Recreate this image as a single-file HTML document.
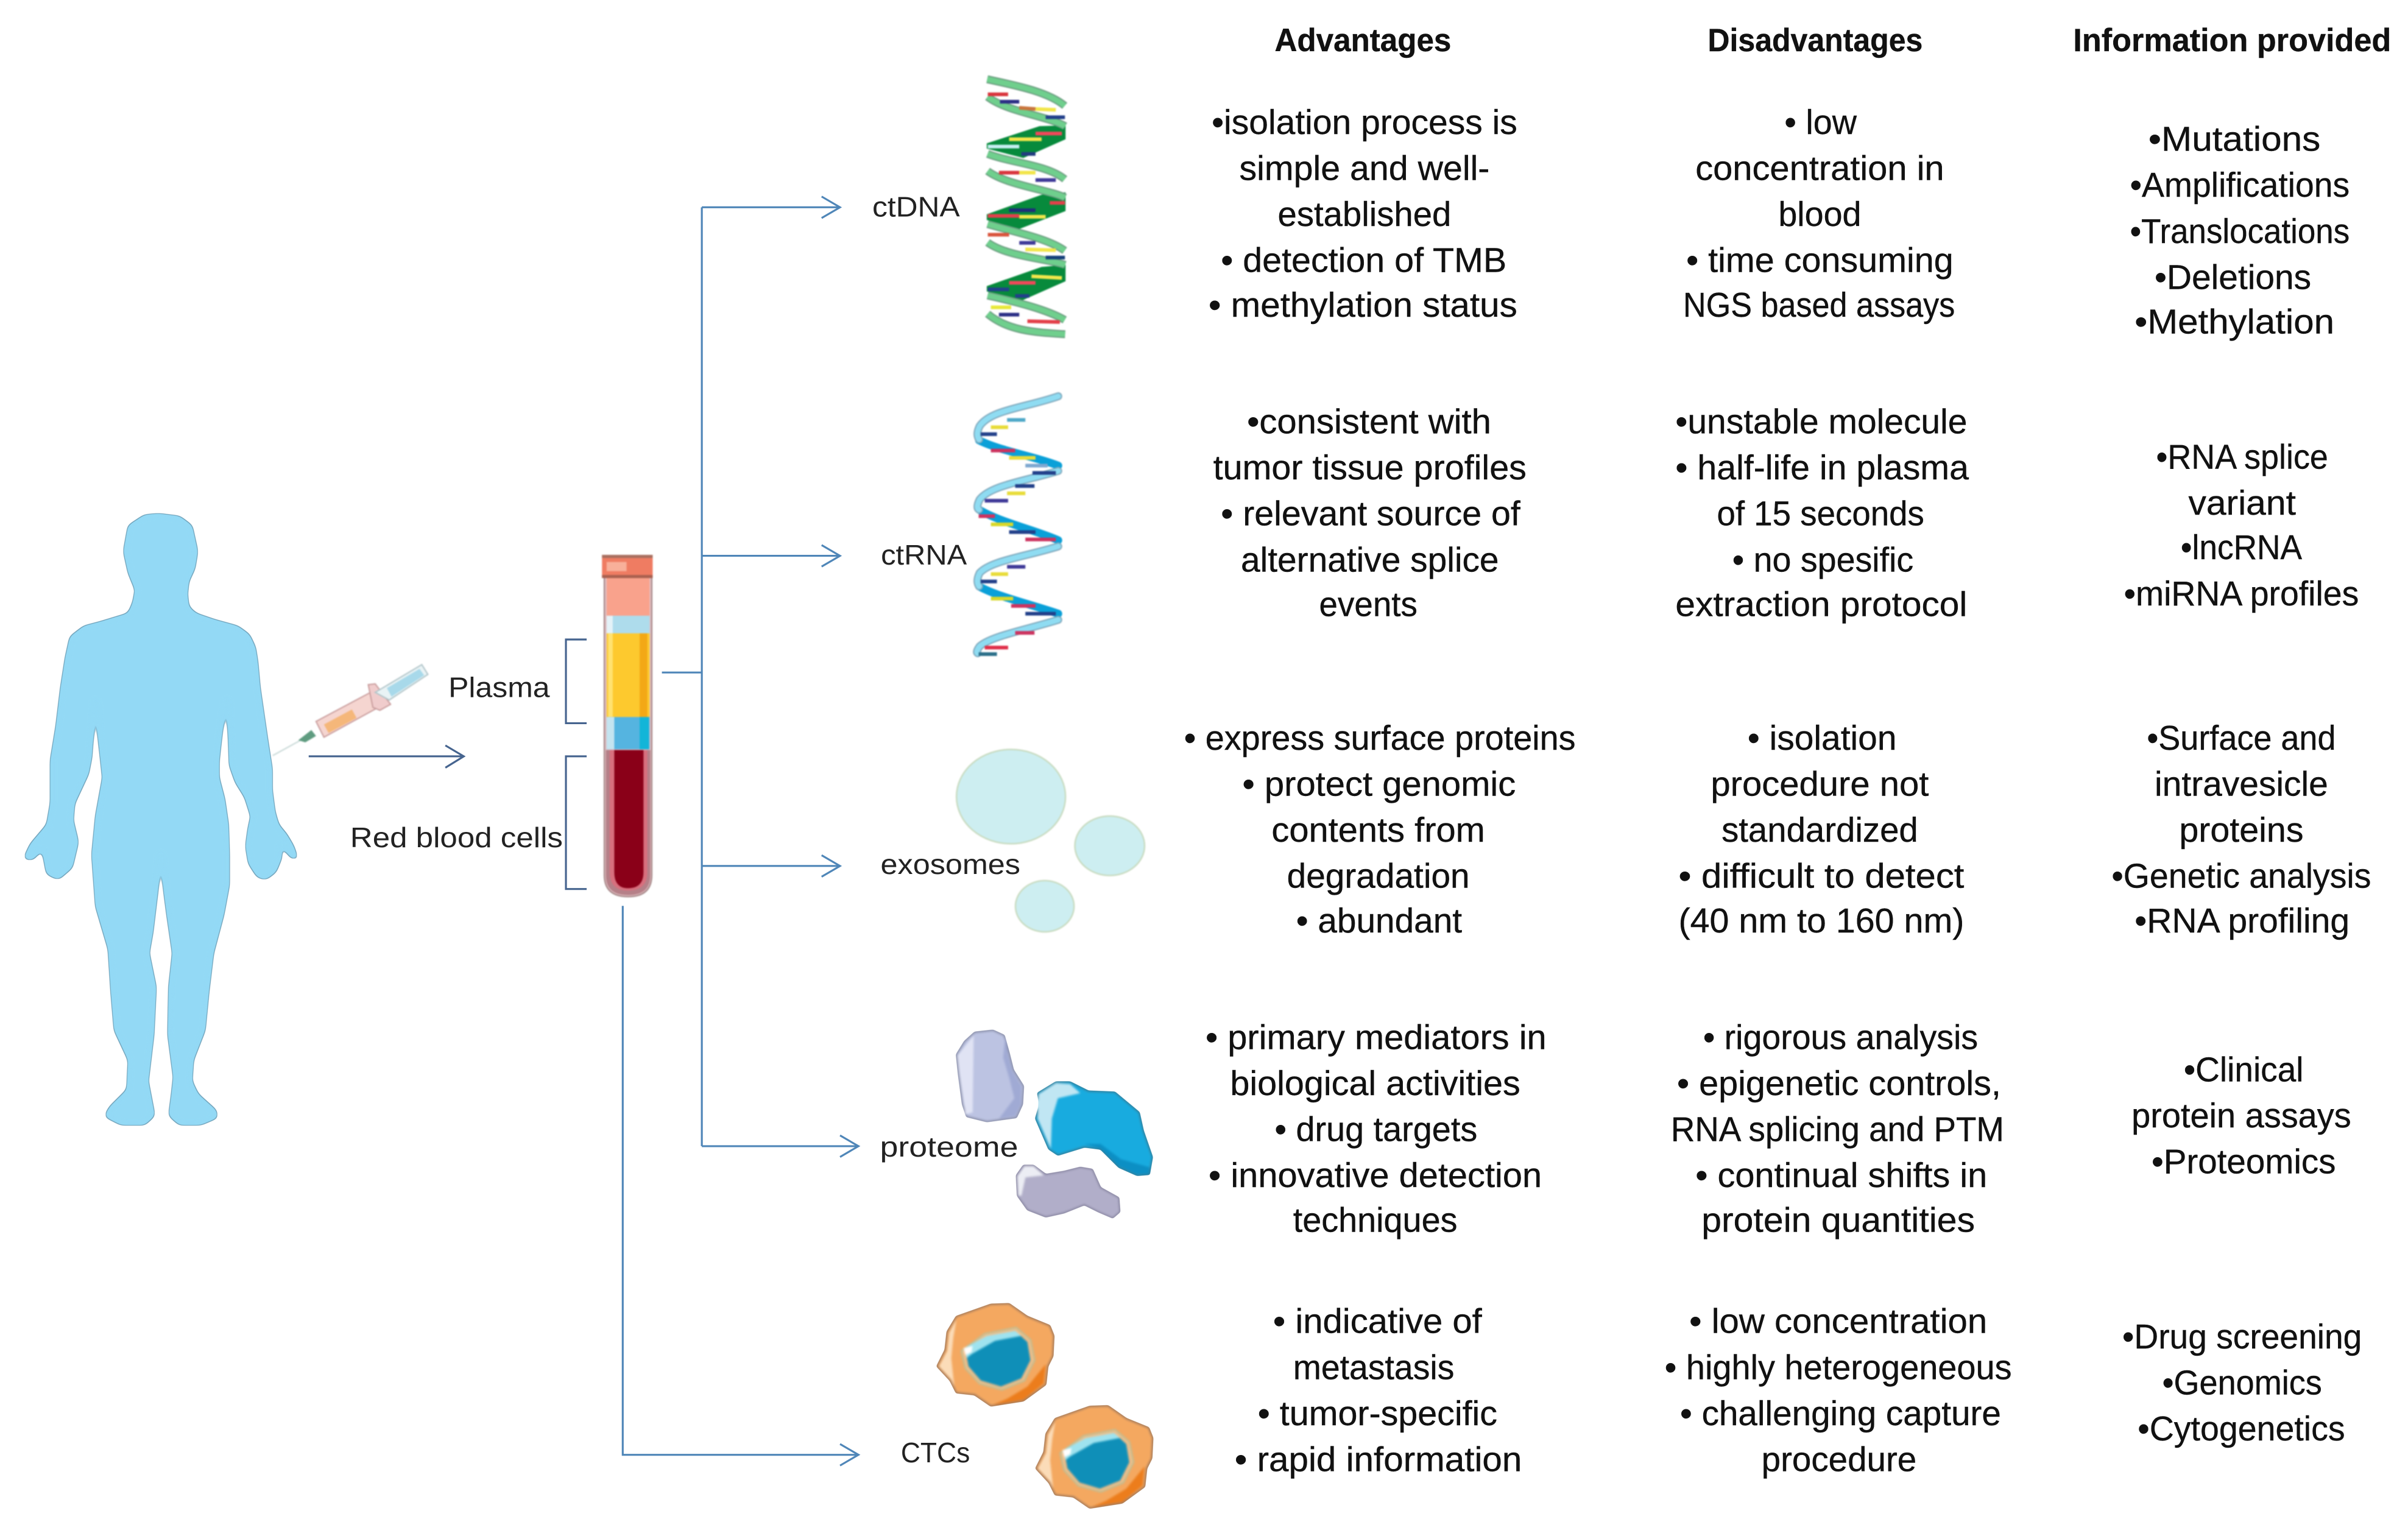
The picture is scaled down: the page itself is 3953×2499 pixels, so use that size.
<!DOCTYPE html>
<html><head><meta charset="utf-8"><style>
html,body{margin:0;padding:0;background:#fff}
svg{display:block}
text{font-family:"Liberation Sans",sans-serif;font-size:22.5px;fill:#111;stroke:#111;stroke-width:.16}
.h{font-weight:bold;font-size:21px}
.l{font-size:18.5px;fill:#222;stroke:none}
.c{fill:none;stroke:#4f86b8;stroke-width:1.25}
.b{fill:none;stroke:#46648f;stroke-width:1.25}
.n{vector-effect:non-scaling-stroke}
</style></head><body>
<svg xmlns="http://www.w3.org/2000/svg" width="3953" height="2499" viewBox="0 0 1568 991.27">
<defs>
<filter id="soft" x="-10%" y="-10%" width="120%" height="120%" color-interpolation-filters="sRGB">
<feGaussianBlur stdDeviation="0.75"/>
<feComponentTransfer><feFuncA type="linear" slope="5" intercept="-2"/></feComponentTransfer>
</filter>
<filter id="blur" x="-10%" y="-10%" width="120%" height="120%" color-interpolation-filters="sRGB">
<feGaussianBlur stdDeviation="0.4"/>
</filter>
<filter id="body" x="-10%" y="-10%" width="120%" height="120%" color-interpolation-filters="sRGB">
<feGaussianBlur in="SourceGraphic" stdDeviation="1.9"/>
<feComponentTransfer result="c"><feFuncA type="linear" slope="12" intercept="-5.4"/></feComponentTransfer>
<feMorphology in="c" operator="dilate" radius="0.45" result="d"/>
<feFlood flood-color="#6b9db5"/>
<feComposite in2="d" operator="in" result="o"/>
<feMerge><feMergeNode in="o"/><feMergeNode in="c"/></feMerge>
</filter>
</defs>
<rect width="1568" height="991.27" fill="#fff"/>

<!-- body -->
<g filter="url(#body)">
<g transform="translate(0,317.3) scale(0.3035,0.2784)">
<polygon fill="#93d9f5" points="340,62 385,68 412,90 424,150 418,190 405,220 402,250 405,280 420,295 460,310 510,325 535,345 548,375 553,410 558,470 566,530 574,590 584,660 584,710 590,760 598,790 615,812 630,840 640,872 625,868 612,850 602,838 605,865 592,900 570,918 552,912 533,880 527,840 532,800 538,770 525,725 505,690 492,650 487,495 478,560 470,640 470,680 482,730 490,790 492,860 492,930 480,1000 458,1090 448,1180 440,1270 415,1340 412,1390 425,1420 464,1458 467,1475 430,1492 385,1492 362,1470 368,1420 372,1380 360,1280 362,1170 370,1090 358,1000 352,950 345,855 338,950 328,1040 320,1090 335,1170 330,1280 318,1390 332,1470 310,1492 260,1492 224,1472 235,1450 272,1410 275,1340 245,1270 238,1180 232,1080 205,980 197,860 205,770 220,680 212,600 205,495 197,630 190,670 160,740 157,780 168,830 155,890 125,918 100,905 90,848 70,872 50,870 65,835 100,790 108,740 108,640 120,560 130,470 140,400 150,350 180,325 215,315 275,295 285,270 290,240 275,200 265,150 275,90 310,65"/>
</g></g>

<!-- syringe -->
<g filter="url(#blur)">
<g transform="translate(0,317.3) scale(0.3035,0.2784)">
<line class="n" x1="585" y1="628" x2="645" y2="592" stroke="#c7d8d6" stroke-width="2"/>
<polygon points="640,592 668,568 678,582 655,597" fill="#5f9c80"/>
<polygon class="n" points="678,548 795,480 812,515 695,585" fill="#f5d5d0" stroke="#c99d9d" stroke-width="2"/>
<polygon points="695,555 755,520 765,540 705,575" fill="#f5b77a"/>
<polygon class="n" points="790,462 805,460 838,508 815,522 800,515" fill="#f0cccc" stroke="#c99d9d" stroke-width="2"/>
<polygon class="n" points="805,480 905,415 918,438 835,498" fill="#e9f3f5" stroke="#b0c4c8" stroke-width="2"/>
<polygon points="830,470 900,425 910,440 840,490" fill="#a8d9ea"/>
</g></g>

<!-- tube -->
<g filter="url(#blur)">
<path d="M393.5,376 H424.4 V570 Q424.4,584 409,584 Q393.5,584 393.5,570 Z" fill="#e2c0c4" stroke="#a08080" stroke-width=".8"/>
<rect x="395" y="376" width="28" height="25" fill="#f9a28c"/>
<rect x="395" y="401" width="28" height="11.5" fill="#aedcec"/>
<rect x="395" y="401" width="4" height="11.5" fill="#e4f2f8"/>
<rect x="395" y="412.5" width="28" height="54.5" fill="#fdc92e"/>
<rect x="396" y="412.5" width="3" height="54.5" fill="#ffe270"/>
<rect x="416.5" y="412.5" width="5" height="54.5" fill="#f3a815"/>
<rect x="395" y="467" width="28" height="21" fill="#55b4e0"/>
<rect x="395" y="467" width="5" height="21" fill="#c4e4f0"/>
<rect x="416.5" y="467" width="6" height="21" fill="#12b5d8"/>
<path d="M394.5,488.5 H423.5 V570 Q423.5,583 409,583 Q394.5,583 394.5,570 Z" fill="#b58088"/>
<path d="M397,488.5 H421.5 V568 Q421.5,580 409,580 Q397,580 397,568 Z" fill="#d8707e"/>
<path d="M400,488.5 H419 V568 Q419,578.5 409,578.5 Q400,578.5 400,568 Z" fill="#8a0018"/>
<rect x="392" y="361.4" width="33" height="15" fill="#ef7c62"/>
<rect x="392" y="361.4" width="33" height="2" fill="#a87060"/>
<rect x="392" y="374.5" width="33" height="2" fill="#a86050"/>
<rect x="395" y="366" width="13" height="6" fill="#f8b09a"/>
</g>

<!-- connectors -->
<path class="c" d="M431,438 H457 M457,135 V746.5 M457,135 H547 M457,362 H547 M457,564 H547 M457,746.5 H559"/>
<path class="c" d="M405.5,590 V947.5 H559"/>
<path class="c" d="M535,128 L547,135 L535,142 M535,355 L547,362 L535,369 M535,557 L547,564 L535,571 M547,739.5 L559,746.5 L547,753.5 M547,940.5 L559,947.5 L547,954.5"/>
<path class="b" d="M201,492.6 H302 M290,485.5 L302,492.6 L290,500"/>
<path class="b" d="M382,416.5 H368.5 V471 H382 M382,492.6 H368.5 V579 H382"/>

<!-- ctDNA helix -->
<g filter="url(#blur)">
<g transform="translate(555.3,31.7) scale(0.1322,0.2657)">
<polygon points="1048,188 920,190 660,232 660,245 840,268 1048,222" fill="#078a3c"/>
<polygon points="1048,352 930,358 660,406 660,420 820,442 1048,398" fill="#078a3c"/>
<polygon points="1048,530 930,535 660,582 660,595 830,618 1048,570" fill="#078a3c"/>
<g fill="none" stroke="#6d9f82" stroke-width="13">
<path class="n" d="M662,75 C800,90 960,105 1044,140"/>
<path class="n" d="M664,118 C760,155 960,165 1046,190"/>
<path class="n" d="M664,258 C780,280 960,285 1044,320"/>
<path class="n" d="M664,300 C760,335 960,345 1046,365"/>
<path class="n" d="M664,430 C800,450 960,465 1044,495"/>
<path class="n" d="M664,475 C760,510 960,515 1046,530"/>
<path class="n" d="M664,605 C800,620 960,640 1044,665"/>
<path class="n" d="M664,650 C760,690 880,695 1046,700"/>
</g>
<g fill="none" stroke="#6fcf8d" stroke-width="9">
<path class="n" d="M662,75 C800,90 960,105 1044,140"/>
<path class="n" d="M664,118 C760,155 960,165 1046,190"/>
<path class="n" d="M664,258 C780,280 960,285 1044,320"/>
<path class="n" d="M664,300 C760,335 960,345 1046,365"/>
<path class="n" d="M664,430 C800,450 960,465 1044,495"/>
<path class="n" d="M664,475 C760,510 960,515 1046,530"/>
<path class="n" d="M664,605 C800,620 960,640 1044,665"/>
<path class="n" d="M664,650 C760,690 880,695 1046,700"/>
</g>
<g stroke-width="6">
<line x1="665" y1="112" x2="765" y2="112" stroke="#d9363e" class="n"/>
<line x1="725" y1="130" x2="820" y2="130" stroke="#2c2f86" class="n"/>
<line x1="820" y1="145" x2="900" y2="148" stroke="#c9763e" class="n"/>
<line x1="900" y1="148" x2="1000" y2="150" stroke="#f2e64b" class="n"/>
<line x1="950" y1="168" x2="1045" y2="168" stroke="#22408a" class="n"/>
<line x1="770" y1="222" x2="930" y2="222" stroke="#f2e64b" class="n"/>
<line x1="900" y1="208" x2="1030" y2="208" stroke="#f0485a" class="n"/>
<line x1="665" y1="240" x2="820" y2="240" stroke="#c7eef2" class="n"/>
<line x1="830" y1="258" x2="900" y2="258" stroke="#223d80" class="n"/>
<line x1="720" y1="304" x2="820" y2="304" stroke="#d9363e" class="n"/>
<line x1="820" y1="304" x2="900" y2="304" stroke="#f2e64b" class="n"/>
<line x1="900" y1="322" x2="1000" y2="322" stroke="#3f3a98" class="n"/>
<line x1="665" y1="410" x2="820" y2="410" stroke="#e3404a" class="n"/>
<line x1="820" y1="412" x2="950" y2="412" stroke="#f2e64b" class="n"/>
<line x1="970" y1="378" x2="1045" y2="378" stroke="#e3404a" class="n"/>
<line x1="770" y1="396" x2="900" y2="396" stroke="#1e2f78" class="n"/>
<line x1="665" y1="456" x2="770" y2="456" stroke="#d9563e" class="n"/>
<line x1="820" y1="476" x2="900" y2="476" stroke="#3f3a98" class="n"/>
<line x1="850" y1="492" x2="1000" y2="494" stroke="#f2e64b" class="n"/>
<line x1="950" y1="512" x2="1045" y2="512" stroke="#15407a" class="n"/>
<line x1="770" y1="574" x2="900" y2="574" stroke="#f0485a" class="n"/>
<line x1="880" y1="558" x2="1030" y2="562" stroke="#f2e64b" class="n"/>
<line x1="665" y1="590" x2="770" y2="590" stroke="#22408a" class="n"/>
<line x1="800" y1="606" x2="870" y2="606" stroke="#22408a" class="n"/>
<line x1="680" y1="634" x2="780" y2="634" stroke="#e8e83a" class="n"/>
<line x1="720" y1="652" x2="820" y2="652" stroke="#2c2f86" class="n"/>
<line x1="860" y1="668" x2="1020" y2="670" stroke="#e3404a" class="n"/>
</g>
</g></g>

<!-- ctRNA helix -->
<g filter="url(#blur)">
<g transform="translate(555.3,31.7) scale(0.1322,0.2657)">
<g fill="none" stroke="#0aa0d8" stroke-width="13" stroke-linecap="round">
<path class="n" d="M622,960 C720,985 900,1000 1012,1022"/>
<path class="n" d="M622,1130 C720,1160 900,1180 1012,1205"/>
<path class="n" d="M622,1318 C720,1345 900,1365 1012,1385"/>
</g>
<g fill="none" stroke="#7fa8bc" stroke-width="13" stroke-linecap="round">
<path class="n" d="M1012,852 C850,880 680,885 625,925 Q605,945 622,958"/>
<path class="n" d="M1012,1035 C850,1060 680,1070 625,1105 Q605,1125 622,1130"/>
<path class="n" d="M1012,1220 C850,1245 680,1255 625,1285 Q605,1305 622,1318"/>
<path class="n" d="M1012,1400 C850,1425 680,1440 625,1465 Q605,1478 615,1482"/>
</g>
<g fill="none" stroke="#8fdcf2" stroke-width="9" stroke-linecap="round">
<path class="n" d="M1012,852 C850,880 680,885 625,925 Q605,945 622,958"/>
<path class="n" d="M1012,1035 C850,1060 680,1070 625,1105 Q605,1125 622,1130"/>
<path class="n" d="M1012,1220 C850,1245 680,1255 625,1285 Q605,1305 622,1318"/>
<path class="n" d="M1012,1400 C850,1425 680,1440 625,1465 Q605,1478 615,1482"/>
</g>
<g stroke-width="6">
<line class="n" x1="760" y1="910" x2="850" y2="910" stroke="#4fa8c8"/>
<line class="n" x1="680" y1="928" x2="765" y2="928" stroke="#e8dc3a"/>
<line class="n" x1="630" y1="945" x2="710" y2="945" stroke="#22408a"/>
<line class="n" x1="680" y1="985" x2="800" y2="985" stroke="#cc3460"/>
<line class="n" x1="770" y1="1003" x2="900" y2="1003" stroke="#e8dc3a"/>
<line class="n" x1="850" y1="1022" x2="960" y2="1022" stroke="#7fa8d0"/>
<line class="n" x1="885" y1="1040" x2="1000" y2="1040" stroke="#22408a"/>
<line class="n" x1="800" y1="1072" x2="895" y2="1072" stroke="#22408a"/>
<line class="n" x1="760" y1="1090" x2="850" y2="1090" stroke="#e8dc3a"/>
<line class="n" x1="650" y1="1108" x2="765" y2="1108" stroke="#3f3a98"/>
<line class="n" x1="620" y1="1146" x2="700" y2="1146" stroke="#cc3460"/>
<line class="n" x1="680" y1="1166" x2="790" y2="1166" stroke="#d8d82a"/>
<line class="n" x1="770" y1="1185" x2="900" y2="1185" stroke="#22408a"/>
<line class="n" x1="850" y1="1203" x2="1000" y2="1203" stroke="#cc3460"/>
<line class="n" x1="760" y1="1270" x2="850" y2="1270" stroke="#3f3a98"/>
<line class="n" x1="680" y1="1288" x2="765" y2="1288" stroke="#e8dc3a"/>
<line class="n" x1="630" y1="1306" x2="710" y2="1306" stroke="#22408a"/>
<line class="n" x1="680" y1="1348" x2="790" y2="1348" stroke="#d8d82a"/>
<line class="n" x1="780" y1="1366" x2="900" y2="1366" stroke="#cc3460"/>
<line class="n" x1="850" y1="1385" x2="1000" y2="1385" stroke="#22408a"/>
<line class="n" x1="800" y1="1432" x2="895" y2="1432" stroke="#cc3460"/>
<line class="n" x1="650" y1="1468" x2="765" y2="1468" stroke="#e0304a"/>
<line class="n" x1="620" y1="1484" x2="710" y2="1484" stroke="#2b6f8a"/>
</g>
</g></g>

<!-- exosomes -->
<g filter="url(#blur)">
<g transform="translate(555.3,468.1) scale(0.1392,0.3337)" fill="#cdeef1" stroke="#c9dcc2" stroke-width="2.5">
<ellipse class="n" cx="740" cy="152" rx="255" ry="92"/>
<ellipse class="n" cx="1202" cy="248" rx="163" ry="58"/>
<ellipse class="n" cx="898" cy="366" rx="137" ry="50"/>
</g></g>

<!-- proteins -->
<g filter="url(#soft)">
<g transform="translate(610.9,662.4) scale(0.1322)">
<polygon points="90,185 130,120 180,75 270,65 325,90 350,180 370,260 420,340 415,430 385,495 240,515 140,490 120,430 100,280" fill="#bcc3e2" stroke="#8a8fa8" stroke-width="7"/>
<polygon points="95,190 175,90 170,470 135,480 105,280" fill="#e0e3f4"/>
<polygon points="330,100 345,185 365,265 410,340 408,430 380,488 300,500 375,400 350,300 320,200" fill="#a0aad4"/>
<polygon points="490,375 580,320 650,320 740,365 870,370 990,470 1010,560 1055,690 1040,775 980,780 890,740 800,650 720,640 590,680 545,650 480,500 500,430" fill="#18abdf" stroke="#35809c" stroke-width="7"/>
<polygon points="495,380 580,325 650,330 700,375 590,400 560,500 555,650 490,500" fill="#c0e6f3"/>
<polygon points="720,625 800,625 900,700 1040,740 1040,772 980,775 890,735 800,648" fill="#0c8fc4"/>
<polygon points="385,780 420,730 470,730 530,775 620,760 700,740 760,750 800,840 890,890 895,960 860,990 790,960 720,925 620,965 530,985 440,950 390,880" fill="#b1aec9" stroke="#85839d" stroke-width="6"/>
<polygon points="390,785 425,735 470,735 520,780 430,790 410,880 395,880" fill="#ecedf4"/>
</g></g>

<!-- cells -->
<g filter="url(#soft)">
<g transform="translate(602.9,844.9) scale(0.1322)">
<g id="cell">
<polygon points="55,340 95,260 105,170 150,95 320,35 410,32 500,95 610,140 630,190 625,290 600,340 590,430 480,510 320,535 240,480 150,470 120,410" fill="#f4a860" stroke="#a87e5e" stroke-width="8"/>
<polygon points="65,340 105,265 115,175 150,110 135,200 125,300 140,440 125,405" fill="#fbdcb8"/>
<polygon points="590,330 580,425 480,505 330,530 400,500 500,440" fill="#ec7d1c"/>
<polygon points="175,265 290,180 445,150 515,210 535,310 485,410 375,455 265,425 195,350" fill="#f8bd84" stroke="#b9c09a" stroke-width="8"/>
<polygon points="195,260 300,195 440,165 500,220 515,310 470,400 370,440 270,410 210,340" fill="#0f8fb8"/>
<polygon points="190,250 300,190 440,165 470,190 340,215 225,280 200,300" fill="#9fe3ef"/>
<polygon points="185,250 230,240 225,270 195,285" fill="#fff"/>
</g>
<use href="#cell" transform="translate(487,503)"/>
</g></g>

<!-- left labels -->
<text class="l" x="292" y="454" textLength="66" lengthAdjust="spacingAndGlyphs">Plasma</text>
<text class="l" x="228" y="551.8" textLength="138.5" lengthAdjust="spacingAndGlyphs">Red blood cells</text>
<text class="l" x="568" y="141" textLength="57" lengthAdjust="spacingAndGlyphs">ctDNA</text>
<text class="l" x="573.6" y="367.7" textLength="56" lengthAdjust="spacingAndGlyphs">ctRNA</text>
<text class="l" x="573.4" y="569.3" textLength="91" lengthAdjust="spacingAndGlyphs">exosomes</text>
<text class="l" x="573" y="753.3" textLength="90" lengthAdjust="spacingAndGlyphs">proteome</text>
<text class="l" x="586.6" y="952.4" textLength="45" lengthAdjust="spacingAndGlyphs">CTCs</text>

<!-- headers -->
<text class="h" x="830" y="33.4" textLength="115" lengthAdjust="spacingAndGlyphs">Advantages</text>
<text class="h" x="1112" y="33.4" textLength="140" lengthAdjust="spacingAndGlyphs">Disadvantages</text>
<text class="h" x="1350" y="33.4" textLength="207" lengthAdjust="spacingAndGlyphs">Information provided</text>

<g transform="translate(0,-0.5)">
<!-- advantages -->
<text x="789" y="87.7" textLength="199" lengthAdjust="spacingAndGlyphs">•isolation process is</text>
<text x="807" y="117.7" textLength="163" lengthAdjust="spacingAndGlyphs">simple and well-</text>
<text x="832" y="147.7" textLength="113" lengthAdjust="spacingAndGlyphs">established</text>
<text x="795" y="177.7" textLength="186" lengthAdjust="spacingAndGlyphs">• detection of TMB</text>
<text x="787" y="206.7" textLength="201" lengthAdjust="spacingAndGlyphs">• methylation status</text>

<text x="812" y="282.7" textLength="159" lengthAdjust="spacingAndGlyphs">•consistent with</text>
<text x="790" y="312.7" textLength="204" lengthAdjust="spacingAndGlyphs">tumor tissue profiles</text>
<text x="795" y="342.7" textLength="195" lengthAdjust="spacingAndGlyphs">• relevant source of</text>
<text x="808" y="372.7" textLength="168" lengthAdjust="spacingAndGlyphs">alternative splice</text>
<text x="859" y="401.7" textLength="64" lengthAdjust="spacingAndGlyphs">events</text>

<text x="771" y="488.7" textLength="255" lengthAdjust="spacingAndGlyphs">• express surface proteins</text>
<text x="809" y="518.7" textLength="178" lengthAdjust="spacingAndGlyphs">• protect genomic</text>
<text x="828" y="548.7" textLength="139" lengthAdjust="spacingAndGlyphs">contents from</text>
<text x="838" y="578.7" textLength="119" lengthAdjust="spacingAndGlyphs">degradation</text>
<text x="844" y="607.7" textLength="108" lengthAdjust="spacingAndGlyphs">• abundant</text>

<text x="785" y="683.7" textLength="222" lengthAdjust="spacingAndGlyphs">• primary mediators in</text>
<text x="801" y="713.7" textLength="189" lengthAdjust="spacingAndGlyphs">biological activities</text>
<text x="830" y="743.7" textLength="132" lengthAdjust="spacingAndGlyphs">• drug targets</text>
<text x="787" y="773.7" textLength="217" lengthAdjust="spacingAndGlyphs">• innovative detection</text>
<text x="842" y="802.7" textLength="107" lengthAdjust="spacingAndGlyphs">techniques</text>

<text x="829" y="868.7" textLength="136" lengthAdjust="spacingAndGlyphs">• indicative of</text>
<text x="842" y="898.7" textLength="105" lengthAdjust="spacingAndGlyphs">metastasis</text>
<text x="819" y="928.7" textLength="156" lengthAdjust="spacingAndGlyphs">• tumor-specific</text>
<text x="804" y="958.7" textLength="187" lengthAdjust="spacingAndGlyphs">• rapid information</text>

<!-- disadvantages -->
<text x="1162" y="87.7" textLength="47" lengthAdjust="spacingAndGlyphs">• low</text>
<text x="1104" y="117.7" textLength="162" lengthAdjust="spacingAndGlyphs">concentration in</text>
<text x="1158" y="147.7" textLength="54" lengthAdjust="spacingAndGlyphs">blood</text>
<text x="1098" y="177.7" textLength="174" lengthAdjust="spacingAndGlyphs">• time consuming</text>
<text x="1096" y="206.7" textLength="177" lengthAdjust="spacingAndGlyphs">NGS based assays</text>

<text x="1091" y="282.7" textLength="190" lengthAdjust="spacingAndGlyphs">•unstable molecule</text>
<text x="1091" y="312.7" textLength="191" lengthAdjust="spacingAndGlyphs">• half-life in plasma</text>
<text x="1118" y="342.7" textLength="135" lengthAdjust="spacingAndGlyphs">of 15 seconds</text>
<text x="1128" y="372.7" textLength="118" lengthAdjust="spacingAndGlyphs">• no spesific</text>
<text x="1091" y="401.7" textLength="190" lengthAdjust="spacingAndGlyphs">extraction protocol</text>

<text x="1138" y="488.7" textLength="97" lengthAdjust="spacingAndGlyphs">• isolation</text>
<text x="1114" y="518.7" textLength="142" lengthAdjust="spacingAndGlyphs">procedure not</text>
<text x="1121" y="548.7" textLength="128" lengthAdjust="spacingAndGlyphs">standardized</text>
<text x="1093" y="578.7" textLength="186" lengthAdjust="spacingAndGlyphs">• difficult to detect</text>
<text x="1093" y="607.7" textLength="186" lengthAdjust="spacingAndGlyphs">(40 nm to 160 nm)</text>

<text x="1109" y="683.7" textLength="179" lengthAdjust="spacingAndGlyphs">• rigorous analysis</text>
<text x="1092" y="713.7" textLength="211" lengthAdjust="spacingAndGlyphs">• epigenetic controls,</text>
<text x="1088" y="743.7" textLength="217" lengthAdjust="spacingAndGlyphs">RNA splicing and PTM</text>
<text x="1104" y="773.7" textLength="190" lengthAdjust="spacingAndGlyphs">• continual shifts in</text>
<text x="1108" y="802.7" textLength="178" lengthAdjust="spacingAndGlyphs">protein quantities</text>

<text x="1100" y="868.7" textLength="194" lengthAdjust="spacingAndGlyphs">• low concentration</text>
<text x="1084" y="898.7" textLength="226" lengthAdjust="spacingAndGlyphs">• highly heterogeneous</text>
<text x="1094" y="928.7" textLength="209" lengthAdjust="spacingAndGlyphs">• challenging capture</text>
<text x="1147" y="958.7" textLength="101" lengthAdjust="spacingAndGlyphs">procedure</text>

<!-- information -->
<text x="1399" y="98.7" textLength="112" lengthAdjust="spacingAndGlyphs">•Mutations</text>
<text x="1387" y="128.7" textLength="143" lengthAdjust="spacingAndGlyphs">•Amplifications</text>
<text x="1387" y="158.7" textLength="143" lengthAdjust="spacingAndGlyphs">•Translocations</text>
<text x="1403" y="188.7" textLength="102" lengthAdjust="spacingAndGlyphs">•Deletions</text>
<text x="1390" y="217.7" textLength="130" lengthAdjust="spacingAndGlyphs">•Methylation</text>

<text x="1404" y="305.7" textLength="112" lengthAdjust="spacingAndGlyphs">•RNA splice</text>
<text x="1425" y="335.7" textLength="70" lengthAdjust="spacingAndGlyphs">variant</text>
<text x="1420" y="364.7" textLength="79" lengthAdjust="spacingAndGlyphs">•lncRNA</text>
<text x="1383" y="394.7" textLength="153" lengthAdjust="spacingAndGlyphs">•miRNA profiles</text>

<text x="1398" y="488.7" textLength="123" lengthAdjust="spacingAndGlyphs">•Surface and</text>
<text x="1403" y="518.7" textLength="113" lengthAdjust="spacingAndGlyphs">intravesicle</text>
<text x="1419" y="548.7" textLength="81" lengthAdjust="spacingAndGlyphs">proteins</text>
<text x="1375" y="578.7" textLength="169" lengthAdjust="spacingAndGlyphs">•Genetic analysis</text>
<text x="1390" y="607.7" textLength="140" lengthAdjust="spacingAndGlyphs">•RNA profiling</text>

<text x="1422" y="704.7" textLength="78" lengthAdjust="spacingAndGlyphs">•Clinical</text>
<text x="1388" y="734.7" textLength="143" lengthAdjust="spacingAndGlyphs">protein assays</text>
<text x="1401" y="764.7" textLength="120" lengthAdjust="spacingAndGlyphs">•Proteomics</text>

<text x="1382" y="878.7" textLength="156" lengthAdjust="spacingAndGlyphs">•Drug screening</text>
<text x="1408" y="908.7" textLength="104" lengthAdjust="spacingAndGlyphs">•Genomics</text>
<text x="1392" y="938.7" textLength="135" lengthAdjust="spacingAndGlyphs">•Cytogenetics</text>
</g>
</svg>
</body></html>
